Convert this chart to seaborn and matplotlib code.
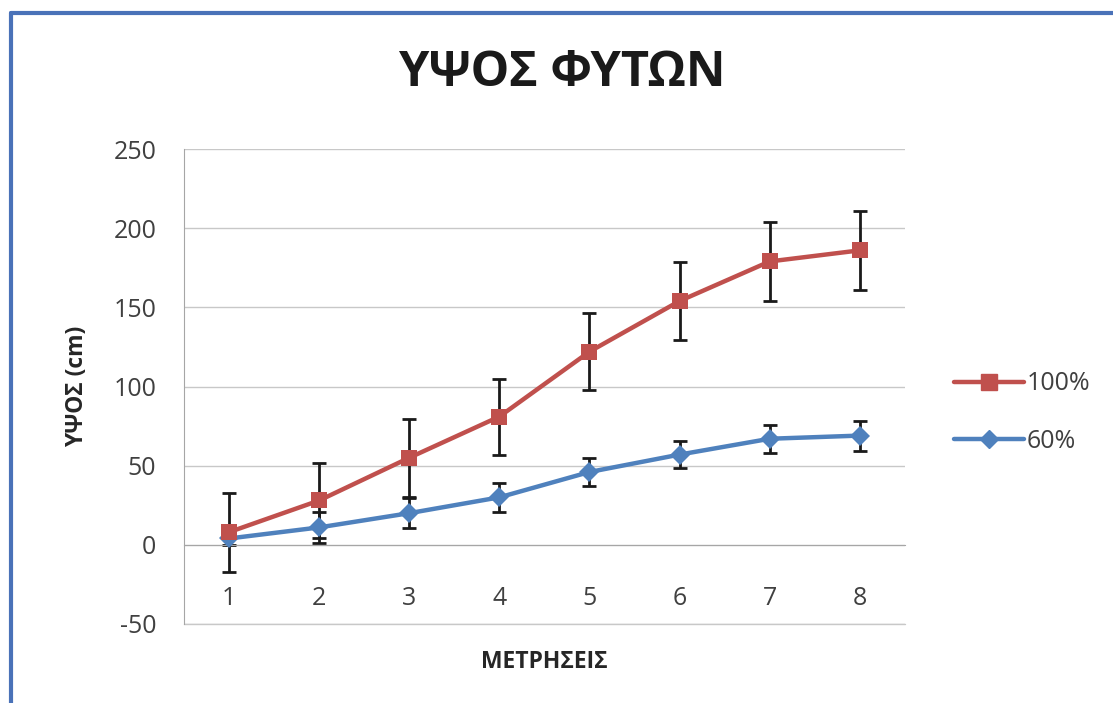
import numpy as np
import pandas as pd
import matplotlib
matplotlib.use("Agg")
import matplotlib.pyplot as plt
import seaborn as sns
from matplotlib.lines import Line2D

# Datos
metriseis = [1, 2, 3, 4, 5, 6, 7, 8]
ypsos_100 = [8, 28, 55, 81, 122, 154, 179, 186]
ypsos_60 = [4, 11, 20, 30, 46, 57, 67, 69]
sfalma_100 = [25, 24, 24.5, 24, 24.5, 24.5, 24.7, 24.8]
sfalma_60 = [4, 10, 9.5, 9, 9, 8.5, 9, 9.5]
seires = ['100%', '60%']
xromata = {'100%': '#C0504D', '60%': '#4F81BD'}

df = pd.DataFrame({
    'ΜΕΤΡΗΣΕΙΣ': metriseis * 2,
    'ΥΨΟΣ': ypsos_100 + ypsos_60,
    'Σειρά': ['100%'] * 8 + ['60%'] * 8,
})

sns.set_style('white')
plt.rcParams['font.family'] = ['Open Sans', 'DejaVu Sans']
plt.rcParams['axes.unicode_minus'] = False

fig = plt.figure(figsize=(11.13, 7.03), dpi=100)
ax = fig.add_axes([0.1653, 0.1124, 0.8130 - 0.1653, 0.788 - 0.1124])

sns.lineplot(data=df, x='ΜΕΤΡΗΣΕΙΣ', y='ΥΨΟΣ', hue='Σειρά', hue_order=seires,
             palette=xromata, style='Σειρά', markers={'100%': 's', '60%': 'D'},
             dashes=False, linewidth=3.2, markersize=12, markeredgewidth=0,
             legend=False, ax=ax)
ax.lines[0].set_zorder(4)
ax.lines[1].set_zorder(3)
ax.lines[1].set_markersize(10)

# Ράβδοι σφάλματος
ax.errorbar(metriseis, ypsos_60, yerr=sfalma_60, fmt='none', ecolor='#1a1a1a',
            elinewidth=2, capsize=5, capthick=2, zorder=2)
ax.errorbar(metriseis, ypsos_100, yerr=sfalma_100, fmt='none', ecolor='#1a1a1a',
            elinewidth=2, capsize=5, capthick=2, zorder=2.5)

# Άξονες
ax.set_xlim(0.5, 8.5)
ax.set_ylim(-50, 250)
ax.set_yticks(range(-50, 251, 50))
ax.set_xticks(metriseis)
ax.set_xticks(np.arange(0.5, 9, 1), minor=True)
ax.grid(axis='y', color='#c8c8c8', linewidth=1)
ax.grid(axis='x', visible=False)
ax.axhline(-50, color='#c8c8c8', linewidth=1, clip_on=False, zorder=0.5)
for s in ['top', 'right']:
    ax.spines[s].set_visible(False)
ax.spines['bottom'].set_position(('data', 0))
ax.spines['bottom'].set_color('#a6a6a6')
ax.spines['left'].set_color('#a6a6a6')
ax.tick_params(axis='x', which='major', length=0, pad=30, labelsize=18, labelcolor='#404040')
ax.tick_params(axis='x', which='minor', length=6, color='#a6a6a6', direction='out')
ax.tick_params(axis='y', length=6, color='#a6a6a6', direction='out', pad=14,
               labelsize=18, labelcolor='#404040')

ax.set_xlabel('ΜΕΤΡΗΣΕΙΣ', fontsize=16.5, fontweight='bold', color='#262626')
ax.set_ylabel('ΥΨΟΣ (cm)', fontsize=16.5, fontweight='bold', color='#262626')
ax.xaxis.set_label_coords(0.5, -0.055)
ax.yaxis.set_label_coords(-0.132, 0.5)

fig.text(0.505, 0.895, 'ΥΨΟΣ ΦΥΤΩΝ', ha='center', va='center', fontsize=35,
         fontweight='bold', color='#1a1a1a')

# Υπόμνημα
handles = [Line2D([], [], color=xromata['100%'], marker='s', linewidth=3.2, markersize=12),
           Line2D([], [], color=xromata['60%'], marker='D', linewidth=3.2, markersize=9)]
fig.legend(handles, seires, loc='center left', bbox_to_anchor=(0.837, 0.413),
           frameon=False, fontsize=18, handlelength=2.8, handletextpad=0.1,
           labelspacing=1.3, labelcolor='#404040')

# Μπλε πλαίσιο
fig.add_artist(Line2D([0.0095, 1.0], [0.982, 0.982], transform=fig.transFigure,
                      color='#4a72b8', linewidth=3))
fig.add_artist(Line2D([0.0095, 0.0095], [0.0, 0.982], transform=fig.transFigure,
                      color='#4a72b8', linewidth=3))

fig.savefig('out.png', dpi=100)
